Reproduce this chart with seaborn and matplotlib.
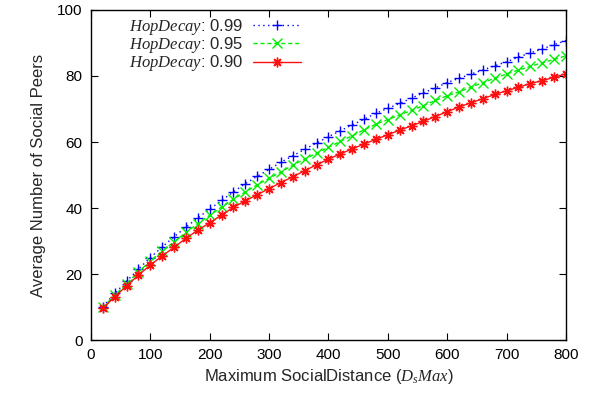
import matplotlib
matplotlib.use("Agg")
import matplotlib.pyplot as plt
import pandas as pd
import seaborn as sns

distance = list(range(20, 801, 20))

peers_099 = [10.1, 14.1, 17.8, 21.5, 25.0, 28.2, 31.3, 34.2, 37.0, 39.7,
             42.3, 44.9, 47.4, 49.6, 51.7, 53.9, 55.8, 57.8, 59.7, 61.6,
             63.4, 65.2, 66.9, 68.7, 70.2, 71.7, 73.3, 74.9, 76.4, 78.0,
             79.3, 80.6, 81.8, 83.1, 84.3, 85.7, 87.0, 88.2, 89.5, 90.7]
peers_095 = [9.9, 13.6, 17.1, 20.7, 23.9, 26.9, 29.8, 32.6, 35.3, 37.8,
             40.3, 42.7, 44.9, 47.0, 49.0, 50.9, 53.0, 54.8, 56.6, 58.4,
             60.2, 61.9, 63.7, 65.4, 66.8, 68.2, 69.6, 71.0, 72.6, 74.0,
             75.2, 76.6, 78.0, 79.3, 80.6, 81.8, 82.9, 84.0, 85.0, 86.1]
peers_090 = [9.6, 13.1, 16.4, 19.7, 22.7, 25.5, 28.1, 30.8, 33.3, 35.5,
             37.9, 40.2, 42.2, 44.0, 45.9, 47.7, 49.5, 51.3, 53.1, 54.8,
             56.4, 57.9, 59.4, 60.8, 62.2, 63.6, 64.9, 66.3, 67.7, 69.2,
             70.6, 71.9, 73.1, 74.4, 75.5, 76.6, 77.7, 78.6, 79.6, 80.7]

labels = [r"$HopDecay$: 0.99", r"$HopDecay$: 0.95", r"$HopDecay$: 0.90"]
colors = ["#0000ff", "#00ee00", "#ff1010"]
markers = ["+", "x", (8, 2, 0)]
dash_styles = [(1, 2.5), (3, 2), ""]

frames = []
for lab, vals in zip(labels, [peers_099, peers_095, peers_090]):
    frames.append(pd.DataFrame({"x": distance, "y": vals, "series": lab}))
df = pd.concat(frames, ignore_index=True)

sns.set_style("ticks")
plt.rcParams["font.family"] = ["Liberation Sans", "DejaVu Sans"]
plt.rcParams["mathtext.fontset"] = "custom"
plt.rcParams["mathtext.it"] = "Liberation Serif:italic"
plt.rcParams["mathtext.rm"] = "Liberation Serif"

fig = plt.figure(figsize=(5.92, 3.95), dpi=100)
ax = fig.add_axes([0.1537, 0.1392, 0.8023, 0.8355])

sns.lineplot(data=df, x="x", y="y", hue="series", style="series", ax=ax,
             palette=dict(zip(labels, colors)),
             markers=dict(zip(labels, markers)),
             dashes=dict(zip(labels, dash_styles)),
             markersize=7, markeredgewidth=1, linewidth=1)

# seaborn paints marker edges white by default; give them the line colour
for ln in ax.lines:
    ln.set_markeredgecolor(ln.get_color())

ax.set_xlim(0, 800)
ax.set_ylim(0, 100)
ax.set_xticks(range(0, 801, 100))
ax.set_yticks(range(0, 101, 20))
ax.tick_params(direction="in", top=True, right=True, length=5, width=0.8,
               labelsize=11, colors="black", pad=6)
for s in ax.spines.values():
    s.set_visible(True)
    s.set_linewidth(1)
    s.set_color("black")

ax.set_xlabel(r"Maximum SocialDistance ($D_sMax$)", fontsize=12, labelpad=3)
ax.set_ylabel("Average Number of Social Peers", fontsize=12, labelpad=8)

handles, _ = ax.get_legend_handles_labels()
handles = handles[-3:]
for h in handles:
    h.set_markeredgecolor(h.get_color())
ax.legend(handles, labels, loc="upper left", bbox_to_anchor=(0.055, 1.015),
          frameon=False, markerfirst=False, handlelength=2.9, fontsize=12,
          labelspacing=-0.1, handletextpad=0.6, borderaxespad=0.3)

fig.savefig("out.png", dpi=100)
